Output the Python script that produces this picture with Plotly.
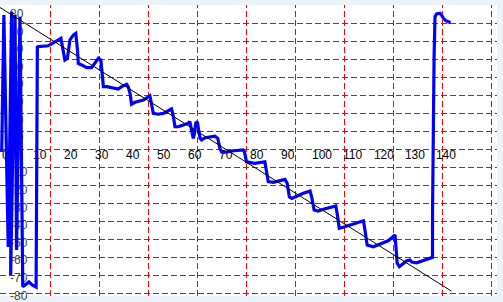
import plotly.graph_objects as go

# ---- data ----
blue_x = [-0.1, 0.6, 2.0, 3.1, 2.8, 4.2, 4.7, 5.8, 6.7, 8.1, 8.7, 9.7, 11.0, 11.4,
          11.7, 14.9, 16.5, 18.2, 19.0, 19.8, 20.3, 21.1, 21.9, 23.0, 23.8, 24.4,
          24.6, 25.7, 27.3, 28.9, 30.0, 31.1, 31.9, 32.2, 32.7, 33.8, 35.4, 37.0,
          37.5, 38.6, 40.2, 40.7, 41.3, 41.8, 42.9, 45.6, 47.2, 47.7, 48.3, 48.8,
          50.4, 52.0, 54.7, 55.3, 55.8, 56.9, 58.5, 60.1, 60.6, 61.0, 61.7, 62.0,
          62.5, 63.0, 63.3, 63.9, 64.4, 65.5, 68.7, 69.6, 70.3, 70.9, 72.5, 74.1,
          77.8, 78.2, 78.9, 81.6, 84.8, 85.4, 85.9, 87.5, 89.7, 91.3, 92.0, 92.7,
          93.5, 95.1, 97.2, 99.4, 99.9, 100.7, 102.0, 103.7, 105.8, 107.7, 108.2,
          108.8, 110.1, 112.3, 114.4, 116.6, 117.1, 117.8, 119.8, 121.7, 123.0,
          124.6, 126.0, 126.8, 127.1, 127.5, 128.2, 129.5, 130.6, 131.6, 132.2,
          133.8, 135.9, 137.5, 138.9, 138.9, 139.1, 139.4, 139.7, 140.2, 141.3,
          141.8, 142.4, 143.2, 144.0, 144.7]
blue_y = [-3.4, 74.5, -57.3, 76.4, -73.2, 74.5, -59.0, 73.5, -79.9, -77.8, -77.2,
          -78.9, -80.1, 56.3,
          56.5, 57.0, 58.4, 60.3, 61.2, 54.6, 48.9, 49.9, 60.3, 63.1, 64.1, 53.6,
          47.0, 46.1, 44.6, 44.6, 47.0, 49.9, 48.9, 44.2, 33.8, 33.8, 33.2, 32.8,
          32.4, 33.8, 35.1, 33.8, 30.0, 23.8, 24.9, 26.2, 28.1, 28.6, 23.4, 18.6,
          18.1, 18.6, 21.1, 16.7, 11.0, 11.0, 12.0, 13.0, 13.9, 10.1, 4.4, 6.3,
          13.0, 13.9, 10.1, 4.4, 3.5, 4.8, 5.7, 4.4, -1.3, -3.5, -3.5, -2.8,
          -2.2, -3.2, -8.9, -9.8, -8.9, -16.4, -20.2, -20.6, -19.8, -18.9, -21.1, -28.8,
          -29.7, -28.4, -26.8, -25.5, -28.8, -36.3, -36.9, -35.9, -34.8, -34.0, -39.2,
          -46.7, -46.1, -44.8, -43.5, -42.4, -47.7, -56.2, -57.2, -55.6, -54.9,
          -53.8, -51.8, -50.5, -57.2, -66.6, -68.5, -66.6, -65.1, -64.7, -65.9,
          -66.3, -65.1, -64.0, -63.2, -38.2, 7.3, 50.8, 73.5, 75.1, 75.5,
          74.5, 72.6, 71.3, 70.7, 70.1]
ref_x = [-0.65, 145.0]
ref_y = [78.75, -82.4]

x_ticks = list(range(0, 141, 10))
y_ticks = list(range(-80, 81, 10))

FONT = "Liberation Sans, Arial, sans-serif"

fig = go.Figure()
fig.add_trace(go.Scatter(x=blue_x, y=blue_y, mode="lines",
                         line=dict(color="#0000ff", width=3.2),
                         hoverinfo="skip", showlegend=False))
fig.add_trace(go.Scatter(x=ref_x, y=ref_y, mode="lines",
                         line=dict(color="#000000", width=1),
                         hoverinfo="skip", showlegend=False))

# decorative grid (fixed 10 x 16 cells, independent of the value scales),
# placed on pixel centres so the dashes stay crisp
W, H, TOP = 497.0, 291.0, 5.0
shapes = []
for k in range(10):
    col = round(50 + 49.03 * k) + 0.5
    fx = col / W
    shapes.append(dict(type="line", xref="paper", yref="paper", x0=fx, x1=fx,
                       y0=0, y1=1, layer="below",
                       line=dict(color="#ff0000", width=1, dash="6px,3px")))
for k in range(16):
    row = 23 + 18 * k + 0.5
    fy = 1 - (row - TOP) / H
    shapes.append(dict(type="line", xref="paper", yref="paper", x0=0, x1=1,
                       y0=fy, y1=fy, layer="below",
                       line=dict(color="#ff0000", width=1, dash="6px,3px")))

fig.update_layout(
    width=503, height=302,
    margin=dict(l=0, r=6, t=5, b=6),
    paper_bgcolor="#edf1f9",
    plot_bgcolor="#ffffff",
    shapes=shapes,
    font=dict(family=FONT, size=12, color="#000000"),
    xaxis=dict(range=[-0.65, 159.7], tickvals=x_ticks,
               ticktext=[str(v) for v in x_ticks],
               showgrid=False, zeroline=False, showline=False, ticks="",
               anchor="free", position=0.515,
               ticklabelposition="outside right",
               ticklabeloverflow="allow",
               layer="below traces", fixedrange=True),
    yaxis=dict(range=[-85.17, 80.17], tickvals=y_ticks,
               ticktext=[str(v) for v in y_ticks],
               showgrid=False, zeroline=False, showline=False, ticks="",
               anchor="free", position=0,
               ticklabelposition="inside bottom",
               ticklabeloverflow="allow",
               ticklabelstandoff=6,
               layer="below traces", fixedrange=True),
)

fig.write_html("out.html", config={"displayModeBar": False})
